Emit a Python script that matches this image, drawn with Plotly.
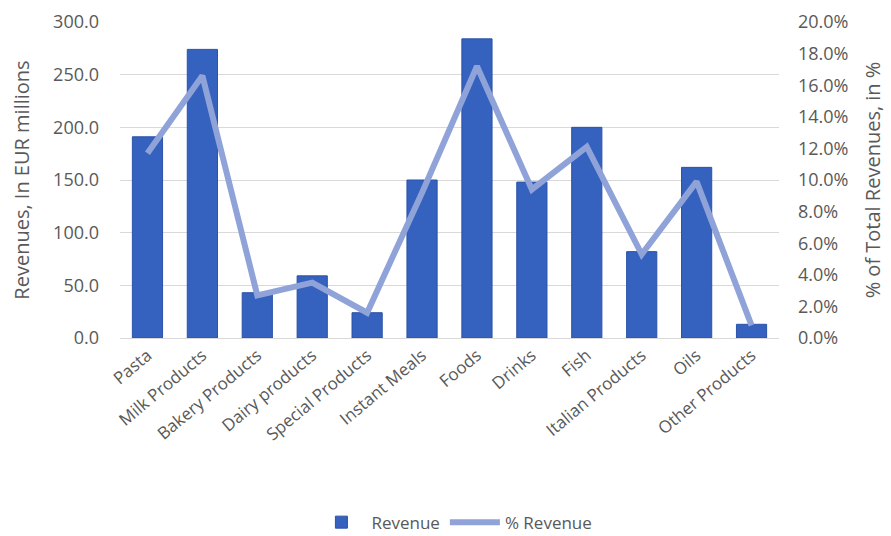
import plotly.graph_objects as go

categories = ["Pasta", "Milk Products", "Bakery Products", "Dairy products", "Special Products",
              "Instant Meals", "Foods", "Drinks", "Fish", "Italian Products", "Oils", "Other Products"]
revenue = [191, 274, 43, 59, 24, 150, 284, 148, 200, 82, 162, 13]
pct_revenue = [11.7, 16.6, 2.7, 3.5, 1.6, 9.2, 17.2, 9.4, 12.1, 5.3, 9.9, 0.8]

font_family = "Open Sans, Liberation Sans, sans-serif"
grey = "#595959"

fig = go.Figure()
fig.add_trace(go.Bar(
    x=categories, y=revenue, name="Revenue",
    marker=dict(color="#3462BE", line=dict(color="#2A52A8", width=1)),
))
fig.add_trace(go.Scatter(
    x=categories, y=pct_revenue, name="% Revenue", yaxis="y2",
    mode="lines", line=dict(color="#8FA3D8", width=6),
))

fig.update_layout(
    width=891, height=536,
    margin=dict(l=120, r=112, t=22, b=198, autoexpand=False),
    paper_bgcolor="white", plot_bgcolor="white",
    font=dict(family=font_family, size=17, color=grey),
    bargap=0.45,
    showlegend=True,
    legend=dict(orientation="h", x=0.51, xanchor="center", xref="container",
                y=0.025, yanchor="middle", yref="container", itemwidth=50,
                font=dict(size=17, color=grey)),
    xaxis=dict(tickangle=-40, showgrid=False, showline=True, linecolor="#d9d9d9",
               ticks="", automargin=False, tickfont=dict(size=17, color=grey)),
    yaxis=dict(range=[0, 300], dtick=50, tickformat=".1f", showgrid=True,
               gridcolor="#d9d9d9", zeroline=False, ticks="", automargin=False,
               ticklabelstandoff=20,
               title=dict(text="Revenues, In EUR millions", font=dict(size=20, color=grey), standoff=18),
               tickfont=dict(size=18, color=grey)),
    yaxis2=dict(range=[0, 20], dtick=2, tickformat=".1f", ticksuffix="%", overlaying="y",
                side="right", showgrid=False, zeroline=False, ticks="", automargin=False,
                ticklabelstandoff=18,
                title=dict(text="% of Total Revenues, in %", font=dict(size=20, color=grey), standoff=18),
                tickfont=dict(size=18, color=grey)),
)

fig.write_html("out.html")
